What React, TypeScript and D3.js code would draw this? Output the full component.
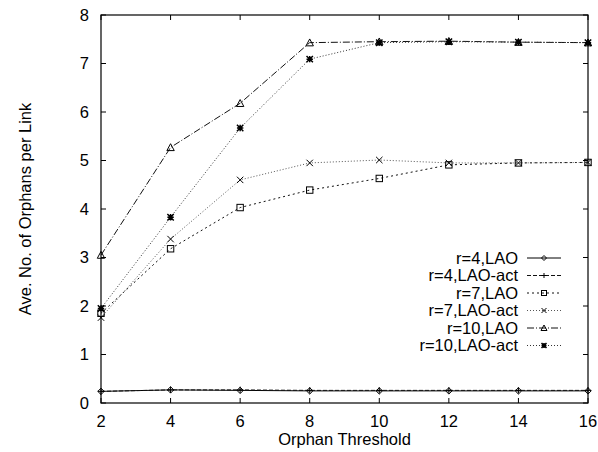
import React, { useEffect, useRef } from "react";
import * as d3 from "d3";

const thresholds = [2, 4, 6, 8, 10, 12, 14, 16];

const r4Lao = [0.24, 0.27, 0.26, 0.25, 0.25, 0.25, 0.25, 0.25];
const r4LaoAct = [0.24, 0.27, 0.27, 0.26, 0.26, 0.26, 0.26, 0.26];
const r7Lao = [1.85, 3.18, 4.03, 4.39, 4.63, 4.91, 4.95, 4.96];
const r7LaoAct = [1.76, 3.38, 4.6, 4.95, 5.01, 4.95, 4.95, 4.96];
const r10Lao = [3.05, 5.27, 6.18, 7.43, 7.45, 7.46, 7.44, 7.43];
const r10LaoAct = [1.95, 3.83, 5.67, 7.09, 7.43, 7.45, 7.44, 7.43];

const seriesNames = [
  "r=4,LAO",
  "r=4,LAO-act",
  "r=7,LAO",
  "r=7,LAO-act",
  "r=10,LAO",
  "r=10,LAO-act",
];
const seriesValues = [r4Lao, r4LaoAct, r7Lao, r7LaoAct, r10Lao, r10LaoAct];

const xTicks = [2, 4, 6, 8, 10, 12, 14, 16];
const yTicks = [0, 1, 2, 3, 4, 5, 6, 7, 8];

// gnuplot-ish line types
const dashes = [null, "4,2", "2,3", "1,2", "7,2,1,2", "1,2"];
const strokes = ["#000", "#111", "#111", "#555", "#111", "#333"];
const markers = ["diamond", "plus", "square", "cross", "triangle", "star"];

const font = "'Liberation Sans', Arial, Helvetica, sans-serif";

function drawMarker(g, type, x, y, s = 3.2) {
  const m = g.append("g").attr("transform", `translate(${x},${y})`);
  const apply = (sel) => sel.attr("stroke", "#000").attr("stroke-width", 1).attr("fill", "none");
  if (type === "diamond") {
    apply(m.append("path").attr("d", `M0,${-s}L${s},0L0,${s}L${-s},0Z`));
  } else if (type === "plus") {
    apply(m.append("path").attr("d", `M${-s},0H${s}M0,${-s}V${s}`));
  } else if (type === "square") {
    apply(m.append("rect").attr("x", -s).attr("y", -s).attr("width", 2 * s).attr("height", 2 * s));
  } else if (type === "cross") {
    apply(m.append("path").attr("d", `M${-s},${-s}L${s},${s}M${-s},${s}L${s},${-s}`));
  } else if (type === "triangle") {
    apply(m.append("path").attr("d", `M0,${-s - 0.5}L${s + 0.5},${s}L${-s - 0.5},${s}Z`));
  } else {
    apply(
      m
        .append("path")
        .attr("d", `M${-s},0H${s}M0,${-s}V${s}M${-s},${-s}L${s},${s}M${-s},${s}L${s},${-s}`)
    ).attr("stroke-width", 1.5);
  }
}

const OrphanChart = () => {
  const ref = useRef(null);

  useEffect(() => {
    const svg = d3.select(ref.current);
    svg.selectAll("*").remove();

    const left = 101,
      right = 588,
      top = 15,
      bottom = 403;

    const x = d3.scaleLinear().domain([2, 16]).range([left, right]);
    const y = d3.scaleLinear().domain([0, 8]).range([bottom, top]);

    svg.append("rect").attr("width", 598).attr("height", 452).attr("fill", "#fff");

    // ticks (inward, mirrored)
    const tk = 5;
    const ticks = svg.append("g").attr("stroke", "#000").attr("stroke-width", 1);
    xTicks.forEach((t) => {
      ticks.append("line").attr("x1", x(t)).attr("x2", x(t)).attr("y1", bottom).attr("y2", bottom - tk);
      ticks.append("line").attr("x1", x(t)).attr("x2", x(t)).attr("y1", top).attr("y2", top + tk);
    });
    yTicks.forEach((t) => {
      ticks.append("line").attr("x1", left).attr("x2", left + tk).attr("y1", y(t)).attr("y2", y(t));
      ticks.append("line").attr("x1", right).attr("x2", right - tk).attr("y1", y(t)).attr("y2", y(t));
    });

    // tick labels
    const labels = svg
      .append("g")
      .attr("font-family", font)
      .attr("font-size", 16.5)
      .attr("fill", "#000");
    xTicks.forEach((t) => {
      labels.append("text").attr("x", x(t)).attr("y", 427).attr("text-anchor", "middle").text(t);
    });
    yTicks.forEach((t) => {
      labels
        .append("text")
        .attr("x", 89)
        .attr("y", y(t))
        .attr("dy", "0.35em")
        .attr("text-anchor", "end")
        .text(t);
    });

    labels
      .append("text")
      .attr("x", (left + right) / 2)
      .attr("y", 445)
      .attr("text-anchor", "middle")
      .text("Orphan Threshold");
    labels
      .append("text")
      .attr("transform", `translate(31,${(top + bottom) / 2}) rotate(-90)`)
      .attr("text-anchor", "middle")
      .text("Ave. No. of Orphans per Link");

    // series
    const line = d3
      .line()
      .x((d, i) => x(thresholds[i]))
      .y((d) => y(d));

    seriesValues.forEach((vals, si) => {
      svg
        .append("path")
        .datum(vals)
        .attr("d", line)
        .attr("fill", "none")
        .attr("stroke", strokes[si])
        .attr("stroke-width", 1)
        .attr("stroke-dasharray", dashes[si]);
      const mg = svg.append("g");
      vals.forEach((v, i) => drawMarker(mg, markers[si], x(thresholds[i]), y(v)));
    });

    // legend
    const lg = svg.append("g");
    seriesNames.forEach((name, i) => {
      const ly = 258 + i * 17.5;
      lg.append("text")
        .attr("x", 518)
        .attr("y", ly)
        .attr("dy", "0.35em")
        .attr("text-anchor", "end")
        .attr("font-family", font)
        .attr("font-size", 16.5)
        .text(name);
      lg.append("line")
        .attr("x1", 527)
        .attr("x2", 561)
        .attr("y1", ly)
        .attr("y2", ly)
        .attr("stroke", strokes[i])
        .attr("stroke-width", 1)
        .attr("stroke-dasharray", dashes[i]);
      drawMarker(lg, markers[i], 544, ly, 2.5);
    });

    // border
    svg
      .append("rect")
      .attr("x", left)
      .attr("y", top)
      .attr("width", right - left)
      .attr("height", bottom - top)
      .attr("fill", "none")
      .attr("stroke", "#000")
      .attr("stroke-width", 1.2);
  }, []);

  return (
    <svg
      ref={ref}
      width={598}
      height={452}
      style={{ position: "absolute", left: 0, top: 0 }}
    />
  );
};

export default function App() {
  return <OrphanChart />;
}
